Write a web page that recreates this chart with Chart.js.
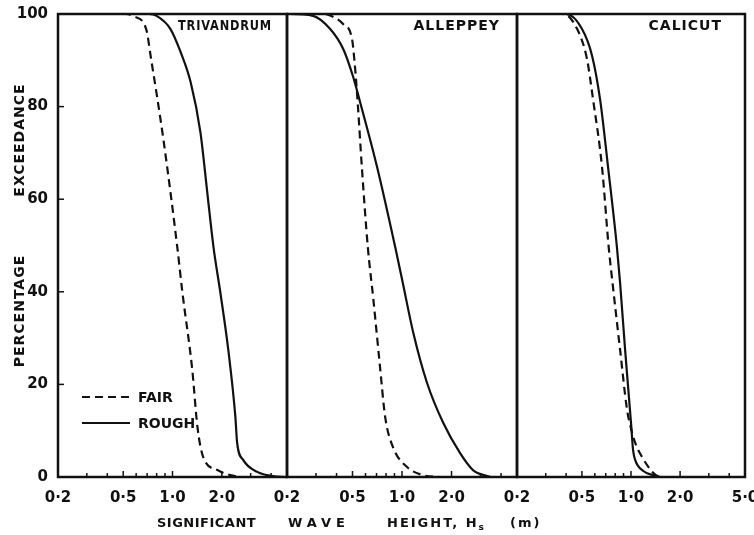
<!DOCTYPE html>
<html>
<head>
<meta charset="utf-8">
<script src="https://cdn.jsdelivr.net/npm/chart.js@4.4.1/dist/chart.umd.min.js"></script>
<style>
html, body { margin: 0; padding: 0; background: #fff; overflow: hidden; width: 754px; height: 535px; }
#wrap { position: relative; width: 754px; height: 535px; overflow: hidden; font-family: "DejaVu Sans", sans-serif; font-weight: bold; color: #111; }
canvas { position: absolute; top: 0; }
.lbl { position: absolute; top: 515px; font-size: 13px; line-height: 16px; letter-spacing: 0.5px; white-space: nowrap; }
.ytitle { position: absolute; left: 19px; font-size: 14px; letter-spacing: 1px; white-space: nowrap; transform: translate(-50%, -50%) rotate(-90deg); }
sub { font-size: 9px; vertical-align: -3px; }
</style>
</head>
<body>
<div id="wrap">
  <canvas id="c1" width="300" height="535" style="left:0px"></canvas>
  <canvas id="c2" width="260" height="535" style="left:272px"></canvas>
  <canvas id="c3" width="280" height="535" style="left:502px"></canvas>
  <div class="ytitle" style="top:140px">EXCEEDANCE</div>
  <div class="ytitle" style="top:311px">PERCENTAGE</div>
  <div class="lbl" style="left:157px">SIGNIFICANT</div>
  <div class="lbl" style="left:288px;letter-spacing:5px">WAVE</div>
  <div class="lbl" style="left:387px;letter-spacing:2px">HEIGHT, H<sub>s</sub></div>
  <div class="lbl" style="left:510px;letter-spacing:2px">(m)</div>
</div>
<script>
// tick labels / axis values
const majorTicks = [0.2, 0.5, 1, 2];
const majorTicksLast = [0.2, 0.5, 1, 2, 5];
const minorTicks = [0.3, 0.4, 0.5, 0.6, 0.7, 0.8, 0.9, 1, 2, 3, 4];
const pctTicks = [20, 40, 60, 80];
const seriesNames = ['FAIR', 'ROUGH'];

// Trivandrum
const trivFairH = [0.2, 0.52, 0.58, 0.69, 0.74, 0.88, 1.07, 1.15, 1.32, 1.42, 1.54, 1.88, 2.25, 2.6];
const trivFairPct = [100, 100, 99.5, 96.8, 90.3, 72.9, 49.6, 39.8, 23.2, 10.8, 4.3, 1.5, 0.4, 0];
const trivRoughH = [0.2, 0.72, 0.8, 0.97, 1.12, 1.29, 1.48, 1.63, 1.78, 1.96, 2.19, 2.42, 2.48, 2.7, 3.29, 4.1, 4.9];
const trivRoughPct = [100, 100, 99.6, 96.8, 91.8, 85.3, 74.5, 61.5, 49.6, 39.8, 27.5, 13, 7.4, 3.7, 1.1, 0.2, 0];

// Alleppey
const allFairH = [0.2, 0.33, 0.365, 0.44, 0.497, 0.515, 0.525, 0.54, 0.57, 0.62, 0.67, 0.735, 0.79, 0.88, 1.07, 1.34, 1.7];
const allFairPct = [100, 100, 99.7, 97.8, 94.6, 89.6, 86, 80, 67, 49.6, 38.3, 23.8, 13, 6.5, 2.2, 0.4, 0];
const allRoughH = [0.2, 0.21, 0.288, 0.365, 0.44, 0.503, 0.556, 0.705, 0.91, 1.01, 1.17, 1.42, 1.78, 2.25, 2.7, 3.29, 3.5];
const allRoughPct = [100, 100, 99.6, 96.8, 92.4, 86.6, 81, 67, 49.6, 42, 31.2, 20.3, 11.7, 5.2, 1.5, 0.2, 0];

// Calicut
const calFairH = [0.2, 0.383, 0.467, 0.537, 0.585, 0.664, 0.73, 0.77, 0.857, 0.946, 1.0, 1.06, 1.17, 1.32, 1.42, 1.55];
const calFairPct = [100, 100, 96.8, 90.3, 81.6, 67, 49.6, 42, 27.5, 14.5, 10.5, 7.4, 4.3, 1.5, 0.4, 0];
const calRoughH = [0.2, 0.4, 0.5, 0.577, 0.646, 0.723, 0.82, 0.857, 0.92, 1.0, 1.03, 1.06, 1.19, 1.37, 1.5];
const calRoughPct = [100, 100, 96.8, 91, 81.6, 67, 49.6, 42, 27.5, 11.7, 5.8, 3.7, 1.3, 0.4, 0];

const ink = '#111';
const tickFont = { family: 'DejaVu Sans', weight: 'bold', size: 15 };

function pts(h, p) {
    return h.map((v, i) => ({ x: v, y: p[i] }));
}

const frame = {
    id: 'frame',
    afterDatasetsDraw(chart, args, o) {
        const { ctx, chartArea: a, scales: { x, y } } = chart;
        ctx.save();
        ctx.strokeStyle = ink;
        ctx.fillStyle = ink;
        ctx.lineWidth = 2.5;
        ctx.strokeRect(a.left, a.top, a.right - a.left, a.bottom - a.top);

        // small ticks pointing inward
        ctx.lineWidth = 1.5;
        minorTicks.forEach(v => {
            const px = x.getPixelForValue(v);
            const len = majorTicks.includes(v) ? 6 : 4;
            ctx.beginPath();
            ctx.moveTo(px, a.bottom);
            ctx.lineTo(px, a.bottom - len);
            ctx.stroke();
        });
        if (o.yTicks) {
            pctTicks.forEach(v => {
                const py = y.getPixelForValue(v);
                ctx.beginPath();
                ctx.moveTo(a.left, py);
                ctx.lineTo(a.left + 6, py);
                ctx.stroke();
            });
        }

        // station name
        ctx.font = 'bold 14px "DejaVu Sans"';
        ctx.letterSpacing = '1px';
        ctx.textAlign = 'right';
        ctx.textBaseline = 'middle';
        ctx.fillText(o.title, a.right - o.titleRight, a.top + 12, o.titleWidth);

        // legend
        if (o.legend) {
            ctx.textAlign = 'left';
            ctx.letterSpacing = '0px';
            chart.data.datasets.forEach((ds, i) => {
                const ly = a.top + 383 + i * 26;
                ctx.lineWidth = 2;
                ctx.setLineDash(ds.borderDash || []);
                ctx.beginPath();
                ctx.moveTo(a.left + 24, ly);
                ctx.lineTo(a.left + 72, ly);
                ctx.stroke();
                ctx.setLineDash([]);
                ctx.fillText(ds.label, a.left + 80, ly + 1);
            });
        }
        ctx.restore();
    }
};

function makePanel(id, fair, rough, o) {
    new Chart(document.getElementById(id), {
        type: 'line',
        data: {
            datasets: [{
                label: seriesNames[0],
                data: fair,
                borderColor: ink,
                borderWidth: 2.2,
                borderDash: [8, 5],
                pointRadius: 0,
                cubicInterpolationMode: 'monotone'
            }, {
                label: seriesNames[1],
                data: rough,
                borderColor: ink,
                borderWidth: 2.2,
                pointRadius: 0,
                cubicInterpolationMode: 'monotone'
            }]
        },
        plugins: [frame],
        options: {
            responsive: false,
            animation: false,
            layout: { padding: { top: 14, bottom: 0, left: o.padLeft, right: o.padRight } },
            scales: {
                x: {
                    type: 'logarithmic',
                    min: 0.2,
                    max: 5,
                    grid: { display: false },
                    border: { display: false },
                    afterBuildTicks: s => { s.ticks = o.ticks.map(v => ({ value: v })); },
                    afterFit: s => { s.height = 58; s.paddingLeft = 0; s.paddingRight = 0; },
                    ticks: {
                        color: ink,
                        font: tickFont,
                        padding: 4,
                        maxRotation: 0,
                        autoSkip: false,
                        callback: v => v.toFixed(1).replace('.', '·')
                    }
                },
                y: {
                    display: o.showY,
                    min: 0,
                    max: 100,
                    grid: { display: false },
                    border: { display: false },
                    afterFit: s => { s.width = o.showY ? 58 : 0; },
                    ticks: { stepSize: 20, color: ink, font: tickFont, padding: 2 }
                }
            },
            plugins: {
                legend: { display: false },
                tooltip: { enabled: false },
                frame: o.frame
            }
        }
    });
}

makePanel('c1', pts(trivFairH, trivFairPct), pts(trivRoughH, trivRoughPct), {
    padLeft: 0, padRight: 13, showY: true, ticks: majorTicks,
    frame: { title: 'TRIVANDRUM', titleRight: 15, titleWidth: 94, yTicks: true, legend: true }
});
makePanel('c2', pts(allFairH, allFairPct), pts(allRoughH, allRoughPct), {
    padLeft: 15, padRight: 15, showY: false, ticks: majorTicks,
    frame: { title: 'ALLEPPEY', titleRight: 17 }
});
makePanel('c3', pts(calFairH, calFairPct), pts(calRoughH, calRoughPct), {
    padLeft: 15, padRight: 37, showY: false, ticks: majorTicksLast,
    frame: { title: 'CALICUT', titleRight: 23 }
});
</script>
</body>
</html>
